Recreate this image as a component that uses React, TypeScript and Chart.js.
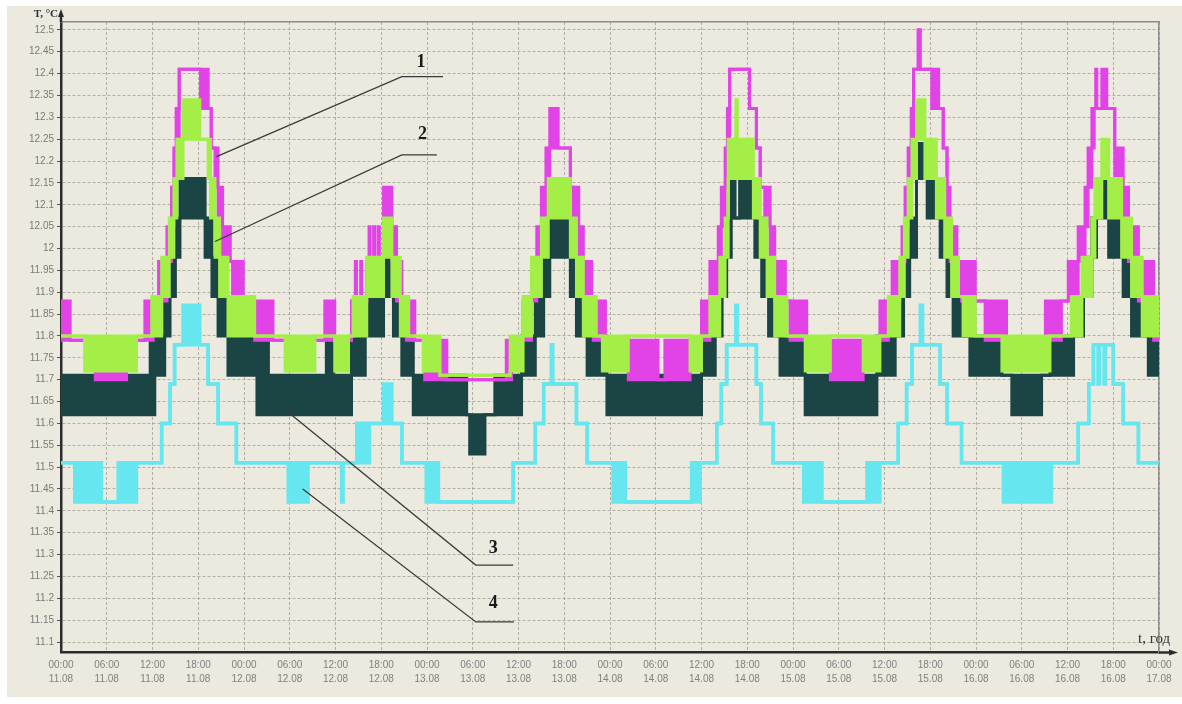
import { useEffect, useRef } from 'react';
import { Chart, registerables } from 'chart.js';

Chart.register(...registerables);

// Each step: [hours since 00:00 11.08, lower level, upper level].
// When lower < upper the sensor toggles between the two levels and the band is filled.
type Step = [number, number, number];

const series1: Step[] = [
  [0, 11.79, 11.88], [1.2, 11.79, 11.79], [4.5, 11.7, 11.79], [8.6, 11.79, 11.79],
  [11.0, 11.79, 11.88], [12.1, 11.88, 11.88], [12.8, 11.88, 11.97], [13.9, 11.97, 12.05],
  [14.5, 12.05, 12.14], [14.8, 12.14, 12.23], [15.1, 12.23, 12.32], [15.5, 12.41, 12.41],
  [18.3, 12.32, 12.41], [19.3, 12.32, 12.32], [19.7, 12.23, 12.23], [20.2, 12.14, 12.23],
  [20.6, 12.05, 12.14], [21.2, 11.97, 12.05], [22.2, 11.97, 11.97], [22.5, 11.88, 11.97],
  [23.9, 11.88, 11.88], [25.4, 11.79, 11.88], [27.8, 11.79, 11.79], [34.6, 11.79, 11.88],
  [35.9, 11.79, 11.79], [38.1, 11.88, 11.88], [38.6, 11.88, 11.97], [38.75, 11.88, 11.88],
  [39.3, 11.88, 11.97], [39.45, 11.88, 11.88], [40.1, 11.97, 11.97], [40.4, 11.97, 12.05],
  [40.55, 11.97, 11.97], [41.0, 11.97, 12.05], [41.15, 11.97, 11.97], [41.6, 11.97, 12.05],
  [41.75, 11.97, 11.97], [42.3, 12.05, 12.14], [43.4, 11.97, 12.05], [44.0, 11.88, 11.97],
  [44.7, 11.88, 11.88], [45.3, 11.79, 11.88], [46.4, 11.79, 11.79], [47.7, 11.7, 11.79],
  [50.6, 11.7, 11.7], [58.4, 11.7, 11.79], [59.1, 11.79, 11.79], [60.6, 11.79, 11.88],
  [61.7, 11.88, 11.97], [62.4, 11.97, 12.05], [63.0, 12.05, 12.14], [63.6, 12.14, 12.23],
  [64.1, 12.23, 12.32], [65.2, 12.23, 12.23], [66.8, 12.14, 12.14], [67.2, 12.05, 12.14],
  [67.9, 11.97, 12.05], [68.5, 11.88, 11.97], [69.6, 11.88, 11.88], [69.8, 11.79, 11.88],
  [71.4, 11.79, 11.79], [74.4, 11.7, 11.79], [78.3, 11.7, 11.7], [79.2, 11.7, 11.79],
  [82.5, 11.79, 11.79], [84.0, 11.79, 11.88], [85.1, 11.88, 11.97], [86.2, 11.97, 12.05],
  [86.6, 12.05, 12.14], [87.1, 12.14, 12.23], [87.4, 12.23, 12.32], [87.7, 12.41, 12.41],
  [90.3, 12.32, 12.32], [91.2, 12.23, 12.23], [91.7, 12.14, 12.14], [92.3, 12.05, 12.14],
  [93.0, 11.97, 12.05], [93.6, 11.88, 11.97], [95.0, 11.88, 11.88], [95.6, 11.79, 11.88],
  [97.8, 11.79, 11.79], [100.9, 11.7, 11.79], [105.2, 11.79, 11.79], [107.4, 11.79, 11.88],
  [108.5, 11.88, 11.88], [109.0, 11.88, 11.97], [110.0, 11.97, 11.97], [110.3, 11.97, 12.05],
  [110.7, 12.05, 12.14], [111.1, 12.14, 12.23], [111.5, 12.23, 12.32], [111.8, 12.41, 12.41],
  [112.4, 12.41, 12.5], [112.7, 12.41, 12.41], [114.2, 12.32, 12.41], [115.1, 12.32, 12.32],
  [115.7, 12.23, 12.23], [116.2, 12.05, 12.14], [116.6, 11.97, 12.05], [117.5, 11.97, 11.97],
  [118.1, 11.88, 11.97], [119.9, 11.88, 11.88], [121.2, 11.79, 11.88], [124.0, 11.79, 11.79],
  [129.1, 11.79, 11.88], [131.2, 11.88, 11.88], [132.1, 11.88, 11.97], [133.4, 11.97, 12.05],
  [134.3, 12.05, 12.14], [134.7, 12.14, 12.23], [135.2, 12.23, 12.32], [135.5, 12.32, 12.32],
  [135.7, 12.32, 12.41], [135.85, 12.32, 12.32], [136.5, 12.32, 12.41], [136.65, 12.32, 12.32],
  [137.0, 12.32, 12.41], [137.15, 12.32, 12.32], [138.2, 12.14, 12.23], [139.3, 12.05, 12.14],
  [140.0, 11.97, 12.05], [141.3, 11.88, 11.97], [143.3, 11.79, 11.88], [144, 11.79, 11.88],
];

const series2: Step[] = [
  [0, 11.8, 11.8], [3.1, 11.72, 11.8], [9.9, 11.8, 11.8], [11.9, 11.8, 11.89],
  [13.2, 11.89, 11.98], [14.2, 11.98, 12.07], [14.8, 12.07, 12.16], [15.2, 12.16, 12.25],
  [16.0, 12.25, 12.34], [18.2, 12.25, 12.25], [19.3, 12.16, 12.25], [19.6, 12.07, 12.16],
  [20.2, 11.98, 12.07], [20.8, 11.89, 11.98], [21.9, 11.8, 11.89], [25.4, 11.8, 11.8],
  [29.4, 11.72, 11.8], [33.3, 11.8, 11.8], [35.9, 11.72, 11.8], [37.7, 11.8, 11.8],
  [38.3, 11.8, 11.89], [40.1, 11.89, 11.98], [42.3, 11.98, 12.07], [43.4, 11.89, 11.98],
  [44.5, 11.8, 11.89], [45.6, 11.8, 11.8], [47.5, 11.72, 11.8], [49.7, 11.71, 11.71],
  [58.9, 11.72, 11.8], [60.6, 11.8, 11.89], [61.7, 11.89, 11.98], [63.0, 11.98, 12.07],
  [63.9, 12.07, 12.16], [66.8, 11.98, 12.07], [67.6, 11.89, 11.98], [68.5, 11.8, 11.89],
  [70.2, 11.8, 11.8], [71.0, 11.72, 11.8], [74.4, 11.8, 11.8], [82.5, 11.72, 11.8],
  [84.0, 11.8, 11.8], [85.1, 11.8, 11.89], [86.4, 11.89, 11.98], [87.1, 11.98, 12.07],
  [87.5, 12.16, 12.25], [88.5, 12.16, 12.34], [88.7, 12.16, 12.25], [90.8, 12.07, 12.16],
  [91.7, 11.98, 12.07], [92.6, 11.89, 11.98], [93.6, 11.8, 11.89], [95.2, 11.8, 11.8],
  [97.6, 11.72, 11.8], [100.9, 11.8, 11.8], [105.2, 11.72, 11.8], [107.4, 11.8, 11.8],
  [108.5, 11.8, 11.89], [110.0, 11.89, 11.98], [110.6, 11.98, 12.07], [111.1, 12.07, 12.16],
  [111.6, 12.16, 12.25], [112.2, 12.25, 12.34], [113.3, 12.16, 12.25], [114.8, 12.07, 12.16],
  [115.9, 11.98, 12.07], [116.8, 11.89, 11.98], [117.7, 11.89, 11.89], [118.3, 11.8, 11.89],
  [119.9, 11.8, 11.8], [123.4, 11.72, 11.8], [129.7, 11.8, 11.8], [132.5, 11.8, 11.89],
  [133.9, 11.89, 11.98], [135.2, 11.98, 12.07], [135.6, 12.07, 12.16], [136.5, 12.16, 12.25],
  [137.4, 12.07, 12.16], [139.1, 11.98, 12.07], [140.4, 11.89, 11.98], [141.8, 11.8, 11.89],
  [144, 11.8, 11.89],
];

const series3: Step[] = [
  [0, 11.62, 11.71], [11.7, 11.62, 11.8], [12.3, 11.71, 11.8], [13.6, 11.8, 11.89],
  [14.3, 11.89, 11.98], [15.0, 11.98, 12.07], [15.6, 12.07, 12.16], [18.9, 11.98, 12.07],
  [19.8, 11.89, 11.98], [20.6, 11.8, 11.89], [21.9, 11.71, 11.8], [25.7, 11.62, 11.8],
  [27.2, 11.62, 11.71], [34.8, 11.62, 11.8], [35.7, 11.62, 11.71], [38.1, 11.71, 11.8],
  [39.9, 11.8, 11.89], [42.3, 11.89, 11.98], [43.6, 11.8, 11.89], [44.7, 11.71, 11.8],
  [46.2, 11.62, 11.71], [53.2, 11.62, 11.62], [53.6, 11.53, 11.62], [55.6, 11.62, 11.62],
  [56.9, 11.62, 11.71], [60.4, 11.71, 11.8], [62.2, 11.8, 11.89], [63.3, 11.89, 11.98],
  [64.1, 11.98, 12.07], [66.8, 11.89, 11.98], [67.6, 11.8, 11.89], [69.0, 11.71, 11.8],
  [71.6, 11.62, 11.71], [84.0, 11.71, 11.8], [85.8, 11.8, 11.89], [86.7, 11.89, 11.98],
  [87.3, 11.98, 12.07], [87.9, 12.07, 12.16], [88.4, 12.07, 12.07], [89.0, 12.07, 12.16],
  [91.0, 11.98, 12.07], [91.9, 11.89, 11.98], [92.8, 11.8, 11.89], [94.3, 11.71, 11.8],
  [97.6, 11.62, 11.71], [107.0, 11.71, 11.8], [109.4, 11.8, 11.89], [110.5, 11.89, 11.98],
  [111.3, 11.98, 12.07], [112.2, 12.16, 12.24], [113.6, 12.07, 12.16], [115.3, 11.98, 12.07],
  [116.2, 11.89, 11.98], [117.0, 11.8, 11.89], [118.3, 11.8, 11.8], [119.2, 11.71, 11.8],
  [123.4, 11.71, 11.71], [124.7, 11.62, 11.71], [128.6, 11.71, 11.71], [129.7, 11.71, 11.8],
  [132.8, 11.8, 11.89], [134.1, 11.89, 11.98], [135.2, 11.98, 12.07], [135.8, 12.07, 12.16],
  [137.4, 11.98, 12.07], [139.3, 11.89, 11.98], [140.4, 11.8, 11.89], [142.6, 11.71, 11.8],
  [144, 11.71, 11.8],
];

const series4: Step[] = [
  [0, 11.51, 11.51], [1.8, 11.42, 11.51], [5.3, 11.42, 11.42], [7.5, 11.42, 11.51],
  [9.9, 11.51, 11.51], [13.2, 11.6, 11.6], [14.3, 11.69, 11.69], [14.9, 11.78, 11.78],
  [16.0, 11.78, 11.87], [18.2, 11.78, 11.78], [19.3, 11.69, 11.69], [20.6, 11.6, 11.6],
  [23.0, 11.51, 11.51], [29.8, 11.42, 11.51], [32.4, 11.51, 11.51], [36.8, 11.42, 11.51],
  [37.0, 11.51, 11.51], [38.8, 11.6, 11.6], [39.1, 11.51, 11.6], [39.25, 11.6, 11.6],
  [39.7, 11.51, 11.6], [39.85, 11.6, 11.6], [40.3, 11.51, 11.6], [40.45, 11.6, 11.6],
  [42.3, 11.6, 11.69], [43.4, 11.6, 11.6], [44.7, 11.51, 11.51], [47.9, 11.42, 11.51],
  [49.5, 11.42, 11.42], [59.3, 11.51, 11.51], [62.2, 11.6, 11.6], [63.3, 11.69, 11.69],
  [64.3, 11.69, 11.78], [64.5, 11.69, 11.69], [67.6, 11.6, 11.6], [69.0, 11.51, 11.51],
  [72.4, 11.42, 11.51], [74.0, 11.42, 11.42], [82.7, 11.42, 11.51], [83.8, 11.51, 11.51],
  [86.0, 11.6, 11.6], [86.6, 11.69, 11.69], [87.3, 11.78, 11.78], [88.5, 11.78, 11.87],
  [88.7, 11.78, 11.78], [91.2, 11.69, 11.69], [91.8, 11.6, 11.6], [93.4, 11.51, 11.51],
  [97.4, 11.42, 11.51], [99.8, 11.42, 11.42], [105.7, 11.42, 11.51], [107.4, 11.51, 11.51],
  [109.8, 11.6, 11.6], [110.9, 11.69, 11.69], [111.6, 11.78, 11.78], [112.7, 11.78, 11.87],
  [113.0, 11.78, 11.78], [115.3, 11.69, 11.69], [116.2, 11.6, 11.6], [118.1, 11.51, 11.51],
  [123.6, 11.42, 11.51], [129.9, 11.51, 11.51], [133.4, 11.6, 11.6], [134.8, 11.69, 11.69],
  [135.4, 11.78, 11.78], [136.0, 11.69, 11.78], [136.2, 11.78, 11.78], [136.8, 11.69, 11.78],
  [137.0, 11.78, 11.78], [138.0, 11.69, 11.69], [139.3, 11.6, 11.6], [141.3, 11.51, 11.51],
  [144, 11.51, 11.51],
];

const allSeries = [series1, series2, series3, series4];
const seriesNames = ['1', '2', '3', '4'];
const seriesColors = ['#e243e6', '#a3ef48', '#1b4444', '#66e7f0'];
// draw order: dark band at the bottom, then magenta, green, cyan on top
const seriesOrder = [3, 2, 4, 1];
const seriesLineWidths = [3, 3, 3, 3.5];

const yTickValues = [
  12.5, 12.45, 12.4, 12.35, 12.3, 12.25, 12.2, 12.15, 12.1, 12.05, 12, 11.95, 11.9, 11.85, 11.8,
  11.75, 11.7, 11.65, 11.6, 11.55, 11.5, 11.45, 11.4, 11.35, 11.3, 11.25, 11.2, 11.15, 11.1,
];
const xTickHours = [0, 6, 12, 18, 24, 30, 36, 42, 48, 54, 60, 66, 72, 78, 84, 90, 96, 102, 108, 114, 120, 126, 132, 138, 144];
const timeLabels = ['00:00', '06:00', '12:00', '18:00'];
const dateLabels = ['11.08', '12.08', '13.08', '14.08', '15.08', '16.08', '17.08'];

// numbered callouts: text anchor and leader polyline, in [hour, °C]
const calloutText: [number, number][] = [[47.2, 12.426], [47.4, 12.26], [56.7, 11.315], [56.7, 11.189]];
const calloutLines: [number, number][][] = [
  [[20.4, 12.21], [44.7, 12.393], [50.1, 12.393]],
  [[20.2, 12.016], [44.7, 12.214], [49.3, 12.214]],
  [[29.4, 11.631], [54.4, 11.276], [59.3, 11.276]],
  [[31.7, 11.45], [54.4, 11.146], [59.4, 11.146]],
];

const Y_MIN = 11.076;
const Y_MAX = 12.518;

const axisColor = '#2c2c2c';
const gridColor = 'rgba(150,150,140,0.7)';
const tickFont = { family: '"Liberation Sans", Arial, sans-serif', size: 10 };

const decorations = {
  id: 'decorations',
  afterDraw(chart: any) {
    const { ctx, chartArea: a, scales } = chart;
    const x = scales.x;
    const y = scales.y;
    ctx.save();

    // axis arrows
    ctx.strokeStyle = axisColor;
    ctx.fillStyle = axisColor;
    ctx.lineWidth = 2.5;
    ctx.beginPath();
    ctx.moveTo(a.left, a.top);
    ctx.lineTo(a.left, a.top - 8);
    ctx.stroke();
    ctx.beginPath();
    ctx.moveTo(a.left, a.top - 13);
    ctx.lineTo(a.left - 3, a.top - 5);
    ctx.lineTo(a.left + 3, a.top - 5);
    ctx.closePath();
    ctx.fill();

    ctx.beginPath();
    ctx.moveTo(a.right, a.bottom);
    ctx.lineTo(a.right + 12, a.bottom);
    ctx.stroke();
    ctx.beginPath();
    ctx.moveTo(a.right + 19, a.bottom);
    ctx.lineTo(a.right + 10, a.bottom - 3);
    ctx.lineTo(a.right + 10, a.bottom + 3);
    ctx.closePath();
    ctx.fill();

    // axis titles
    ctx.fillStyle = '#333';
    ctx.textBaseline = 'middle';
    ctx.font = 'bold 11px "Liberation Serif", serif';
    ctx.textAlign = 'right';
    ctx.fillText('T, °C', a.left - 3, a.top - 8);
    ctx.font = '15px "Liberation Serif", serif';
    ctx.textAlign = 'left';
    ctx.fillText('t, год', a.right - 21, a.bottom - 13);

    // numbered callouts
    ctx.strokeStyle = '#3a3a3a';
    ctx.lineWidth = 1.3;
    calloutLines.forEach((path) => {
      ctx.beginPath();
      path.forEach(([h, v], i) => {
        const px = x.getPixelForValue(h);
        const py = y.getPixelForValue(v);
        if (i === 0) ctx.moveTo(px, py);
        else ctx.lineTo(px, py);
      });
      ctx.stroke();
    });
    ctx.fillStyle = '#1a1a1a';
    ctx.font = 'bold 18px "Liberation Serif", serif';
    ctx.textAlign = 'center';
    calloutText.forEach(([h, v], i) => {
      ctx.fillText(seriesNames[i], x.getPixelForValue(h), y.getPixelForValue(v));
    });

    ctx.restore();
  },
};

export default function App() {
  const ref = useRef<HTMLCanvasElement>(null);

  useEffect(() => {
    const canvas = ref.current;
    if (!canvas) return;

    const datasets: any[] = [];
    allSeries.forEach((steps, i) => {
      const color = seriesColors[i];
      const common = {
        borderColor: color,
        backgroundColor: color,
        borderWidth: seriesLineWidths[i],
        stepped: true,
        pointRadius: 0,
        pointHoverRadius: 0,
        tension: 0,
        order: seriesOrder[i],
      };
      datasets.push({
        ...common,
        label: `${seriesNames[i]} max`,
        data: steps.map(([h, , hi]) => ({ x: h, y: hi })),
        fill: '+1',
      });
      datasets.push({
        ...common,
        label: `${seriesNames[i]} min`,
        data: steps.map(([h, lo]) => ({ x: h, y: lo })),
        fill: false,
      });
    });

    const chart = new Chart(canvas, {
      type: 'line',
      data: { datasets },
      options: {
        responsive: false,
        animation: false,
        layout: { padding: { top: 16, right: 23, left: 0, bottom: 0 } },
        plugins: {
          legend: { display: false },
          tooltip: { enabled: false },
        },
        scales: {
          x: {
            type: 'linear',
            position: 'bottom',
            min: 0,
            max: 144,
            afterBuildTicks: (axis: any) => {
              axis.ticks = xTickHours.map((v) => ({ value: v }));
            },
            afterFit: (axis: any) => {
              axis.height = 44.5;
            },
            ticks: {
              autoSkip: false,
              maxRotation: 0,
              padding: 6,
              color: '#808080',
              font: { ...tickFont, lineHeight: 1.35 },
              callback: (_v: any, i: number) => [timeLabels[i % 4], dateLabels[Math.floor(i / 4)]],
            },
            grid: { color: gridColor, lineWidth: 1, drawTicks: false },
            border: { color: axisColor, width: 2.5, dash: [3, 2] },
          },
          y: {
            type: 'linear',
            position: 'left',
            min: Y_MIN,
            max: Y_MAX,
            afterBuildTicks: (axis: any) => {
              axis.ticks = yTickValues.map((v) => ({ value: v }));
            },
            afterFit: (axis: any) => {
              axis.width = 54;
            },
            ticks: {
              autoSkip: false,
              padding: 3,
              color: '#7a7a7a',
              font: tickFont,
              callback: (v: any) => String(Number(Number(v).toFixed(2))),
            },
            grid: { color: gridColor, lineWidth: 1, tickColor: '#555', tickLength: 4, tickWidth: 1 },
            border: { color: axisColor, width: 2.5, dash: [3, 2] },
          },
          x2: {
            type: 'linear',
            position: 'top',
            min: 0,
            max: 144,
            ticks: { display: false },
            grid: { display: false, drawTicks: false },
            border: { color: '#8c8c8c', width: 1.5 },
            afterFit: (axis: any) => {
              axis.height = 0;
            },
          },
          y2: {
            type: 'linear',
            position: 'right',
            min: Y_MIN,
            max: Y_MAX,
            ticks: { display: false },
            grid: { display: false, drawTicks: false },
            border: { color: '#8c8c8c', width: 1.5 },
            afterFit: (axis: any) => {
              axis.width = 0;
            },
          },
        },
      } as any,
      plugins: [decorations],
    });

    return () => chart.destroy();
  }, []);

  return (
    <div style={{ position: 'fixed', inset: 0, background: '#ffffff' }}>
      <div
        style={{
          position: 'absolute',
          left: 7,
          top: 6,
          width: 1175,
          height: 691,
          background: '#ece9df',
        }}
      >
        <canvas ref={ref} width={1175} height={691} style={{ display: 'block' }} />
      </div>
    </div>
  );
}
